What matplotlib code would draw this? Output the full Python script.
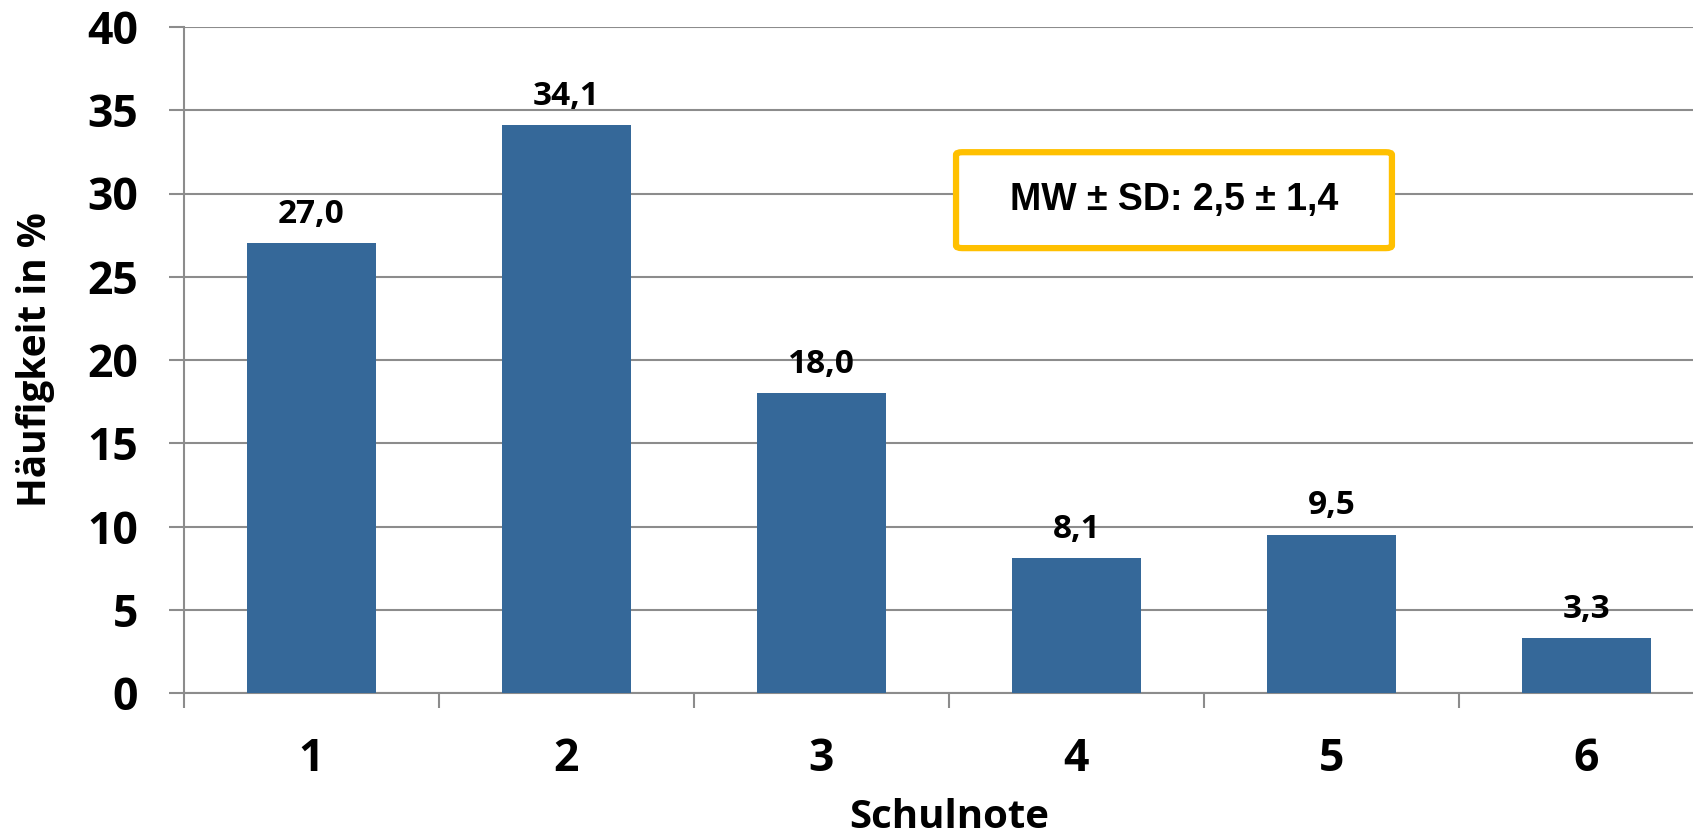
import matplotlib
matplotlib.use("Agg")
import matplotlib.pyplot as plt
from matplotlib.patches import FancyBboxPatch
import numpy as np

categories = ["1", "2", "3", "4", "5", "6"]
values = [27.0, 34.1, 18.0, 8.1, 9.5, 3.3]
value_labels = ["27,0", "34,1", "18,0", "8,1", "9,5", "3,3"]
y_ticks = [0, 5, 10, 15, 20, 25, 30, 35, 40]
box_text = "MW ± SD: 2,5 ± 1,4"
x_label = "Schulnote"
y_label = "Häufigkeit in %"

W, H = 1693, 840
fig = plt.figure(figsize=(W / 100, H / 100), dpi=100)
ax = fig.add_axes([184 / W, (H - 693) / H, 1530 / W, 666 / H])

grid_c = "#8c8c8c"
bar_c = "#356899"
font = "Open Sans"

x = np.arange(len(categories))
ax.bar(x, values, width=0.506, color=bar_c, zorder=3)

ax.set_xlim(-0.5, len(categories) - 0.5)
ax.set_ylim(0, 40)
ax.set_yticks(y_ticks)
ax.set_yticklabels([str(t) for t in y_ticks], fontsize=32, fontweight="bold", family=font)
ax.set_xticks(x)
ax.set_xticklabels(categories, fontsize=32, fontweight="bold", family=font)
ax.set_xticks(np.arange(len(categories) + 1) - 0.5, minor=True)
ax.tick_params(axis="x", which="major", length=0, pad=32)
ax.tick_params(axis="x", which="minor", length=11, width=1.5, color=grid_c)
ax.tick_params(axis="y", length=11, width=1.5, color=grid_c, pad=22)
ax.yaxis.grid(True, color=grid_c, linewidth=1.5, zorder=0)
ax.set_axisbelow(True)
for s in ["top", "right"]:
    ax.spines[s].set_visible(False)
for s in ["left", "bottom"]:
    ax.spines[s].set_color(grid_c)
    ax.spines[s].set_linewidth(1.5)

for xi, v, lab in zip(x, values, value_labels):
    ax.annotate(lab, (xi, v), xytext=(0, 9), textcoords="offset points",
                ha="center", va="bottom", fontsize=24, fontweight="bold", family=font)

ax.set_xlabel(x_label, fontsize=29, fontweight="bold", family=font)
ax.xaxis.label.set_va("center")
ax.xaxis.set_label_coords(0.5, (693 - 817) / 666)
ax.set_ylabel(y_label, fontsize=28, fontweight="bold", family=font)
ax.yaxis.label.set_va("center")
ax.yaxis.set_label_coords((36 - 184) / 1530, 0.5)

box = FancyBboxPatch((0.5046, 0.668), 0.2849, 0.144, boxstyle="round,pad=0,rounding_size=0.004",
                     transform=ax.transAxes, facecolor="white", edgecolor="#FFC000",
                     linewidth=4.5, zorder=5, clip_on=False)
ax.add_patch(box)
ax.text(0.647, 0.740, box_text, transform=ax.transAxes, ha="center", va="center",
        fontsize=27, fontweight="bold", family="Liberation Sans", zorder=6)

fig.savefig("out.png", dpi=100)
